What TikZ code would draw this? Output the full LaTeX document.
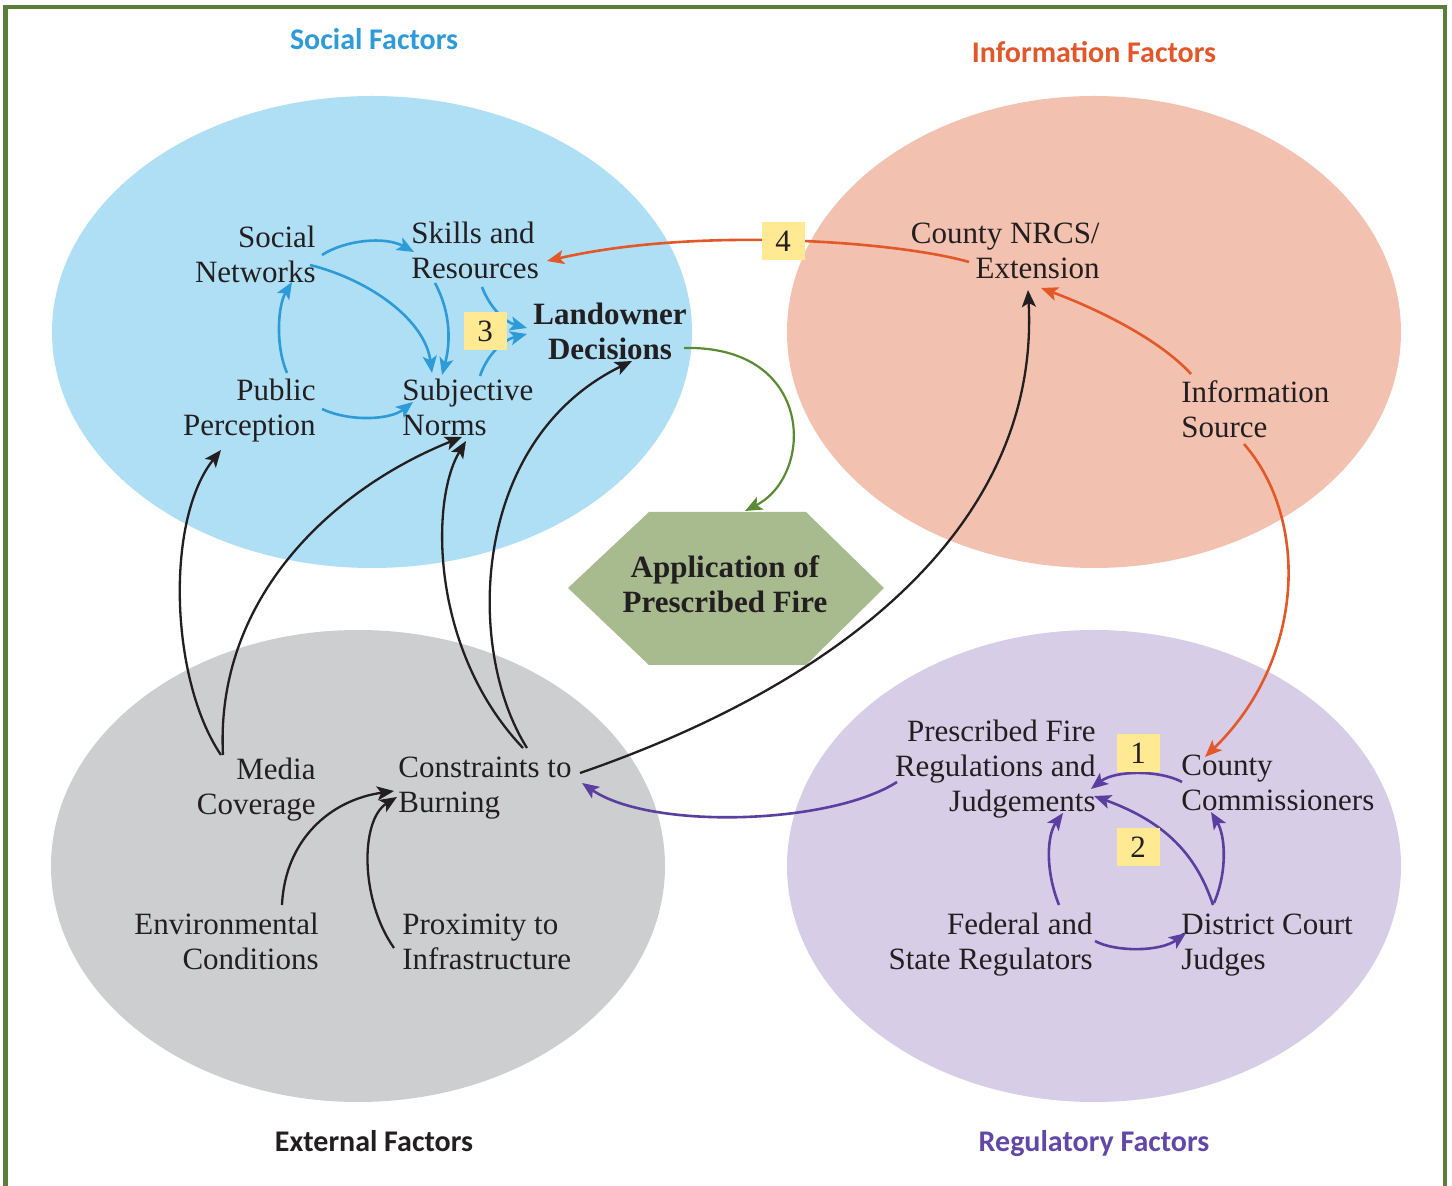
\documentclass[tikz,border=0pt]{standalone}
\usepackage{fontspec}
\setmainfont{Liberation Serif}
\newfontfamily\titlefont{Carlito}
\usetikzlibrary{calc,arrows.meta}
\definecolor{socfill}{HTML}{AEDFF5}
\definecolor{inffill}{HTML}{F2C1B0}
\definecolor{extfill}{HTML}{CDCED0}
\definecolor{regfill}{HTML}{D7CDE6}
\definecolor{hexfill}{HTML}{A8BB8F}
\definecolor{badgeY}{HTML}{FFE993}
\definecolor{txt}{HTML}{231F20}
\definecolor{blueA}{HTML}{2D9BD7}
\definecolor{orangeA}{HTML}{E25828}
\definecolor{greenA}{HTML}{5A8A34}
\definecolor{purpleA}{HTML}{5B3FA0}
\definecolor{borderG}{HTML}{5B7F3A}
\definecolor{socT}{HTML}{2E9AD8}
\definecolor{infT}{HTML}{E2572A}
\definecolor{regT}{HTML}{6247A6}
\begin{document}
\begin{tikzpicture}[x=0.5pt,y=-0.5pt,
  arr/.style={line width=1.3pt,-{Stealth[length=8.5pt,width=7pt,inset=2pt]}},
  barr/.style={arr,draw=blueA},
  oarr/.style={arr,draw=orangeA},
  karr/.style={arr,draw=txt,line width=1.15pt},
  parr/.style={arr,draw=purpleA},
  garr/.style={arr,draw=greenA,line width=1.1pt},
  lbl/.style={font=\fontsize{15.5}{17.5}\selectfont,text=txt,inner sep=0pt},
  lblL/.style={lbl,anchor=west,align=left},
  lblR/.style={lbl,anchor=east,align=right},
  lblB/.style={lbl,font=\fontsize{15.5}{17.5}\selectfont\bfseries,align=center},
  badge/.style={fill=badgeY,minimum width=21.5pt,minimum height=19pt,inner sep=0pt,font=\fontsize{15.5}{17.5}\selectfont,text=txt},
  title/.style={font=\titlefont\bfseries\fontsize{15}{18}\selectfont,inner sep=0pt,anchor=base}
]
\useasboundingbox (0,0) rectangle (1452,1186);
% background regions
\fill[socfill] (372,332) ellipse [x radius=320, y radius=236];
\fill[inffill] (1094,332) ellipse [x radius=307, y radius=236];
\fill[extfill] (358,866) ellipse [x radius=307, y radius=236];
\fill[regfill] (1094,866) ellipse [x radius=307, y radius=236];
\fill[hexfill] (568,588) -- (649,512) -- (806,512) -- (884,588) -- (806,665) -- (649,665) -- cycle;
% border
\draw[borderG,line width=2.25pt] (5.5,1260) -- (5.5,7) -- (1445,7) -- (1445,1260);
% titles
\node[title,text=socT] (tsoc) at (374,49.7) {Social Factors};
\node[title,text=infT] (tinf) at (1094,62.7) {Information Factors};
\node[title,text=txt] (text) at (374,1151.7) {External Factors};
\node[title,text=regT] (treg) at (1094,1151.7) {Regulatory Factors};
% nodes
\node[lblR] (sn) at (316,257.6) {\strut Social\\\strut Networks};
\node[lblL] (sr) at (411,253.6) {\strut Skills and\\\strut Resources};
\node[lblB] (ld) at (610,334.6) {\strut Landowner\\\strut Decisions};
\node[lblR] (pp) at (316,410.6) {\strut Public\\\strut Perception};
\node[lblL] (sj) at (402,410.6) {\strut Subjective\\\strut Norms};
\node[lblR] (ext) at (1100,253.6) {\strut County NRCS/\\\strut Extension};
\node[lblL] (is) at (1181,412.6) {\strut Information\\\strut Source};
\node[lblR] (mc) at (316,789.6) {\strut Media\\\strut Coverage};
\node[lblL] (cb) at (398,787.6) {\strut Constraints to\\\strut Burning};
\node[lblR] (ec) at (319,944.6) {\strut Environmental\\\strut Conditions};
\node[lblL] (pi) at (402,944.6) {\strut Proximity to\\\strut Infrastructure};
\node[lblR] (rg) at (1096,769.6) {\strut Prescribed Fire\\\strut Regulations and\\\strut Judgements};
\node[lblL] (cc) at (1181,785.6) {\strut County\\\strut Commissioners};
\node[lblR] (fs) at (1093,944.6) {\strut Federal and\\\strut State Regulators};
\node[lblL] (dj) at (1181,944.6) {\strut District Court\\\strut Judges};
\node[lblB] (app) at (725,587.6) {\strut Application of\\\strut Prescribed Fire};
% blue arrows
\draw[barr] ($(sn.east)+(6,-2.6)$) .. controls (345,240) and (385,236) .. ($(sr.west)+(3,-1.6)$);
\draw[barr] ($(sn.east)+(-6,7.4)$) .. controls (370,280) and (425,320) .. ($(sj.west)+(30,-37.6)$);
\draw[barr] ($(sr.west)+(24,29.4)$) .. controls (452,315) and (450,345) .. ($(sj.west)+(40,-35.6)$);
\draw[barr] ($(pp.east)+(-29,-37.6)$) .. controls (275,345) and (278,305) .. ($(sn.east)+(-24,24.4)$);
\draw[barr] ($(pp.east)+(6,-1.6)$) .. controls (350,422) and (390,420) .. ($(sj.west)+(11,-8.6)$);
\draw[barr] ($(sr.west)+(71,33.4)$) .. controls (490,308) and (505,322) .. ($(ld)+(-83,-6.6)$);
\draw[barr] ($(sj.west)+(78,-34.6)$) .. controls (487,355) and (503,340) .. ($(ld)+(-83,-0.6)$);
% orange arrows
\draw[oarr] ($(ext.east)+(-131,8.4)$) .. controls (900,242) and (700,226) .. ($(sr.west)+(136,7.4)$);
\draw[oarr] ($(is.west)+(10,-38.6)$) .. controls (1160,340) and (1100,310) .. ($(ext.east)+(-59,34.4)$);
\draw[oarr] ($(is.west)+(63,31.4)$) .. controls (1310,520) and (1305,660) .. ($(cc.west)+(24,-28.6)$);
% green arrow
\draw[garr] ($(ld)+(74,13.4)$) .. controls (815,345) and (815,475) .. ($(app)+(20,-76.6)$);
% black arrows
\draw[karr] ($(mc.east)+(-95,-34.6)$) .. controls (170,680) and (165,520) .. ($(pp.east)+(-95,39.4)$);
\draw[karr] ($(mc.east)+(-93,-34.6)$) .. controls (215,600) and (330,490) .. ($(sj.west)+(60,26.4)$);
\draw[karr] ($(cb.west)+(125,-39.6)$) .. controls (430,650) and (430,500) .. ($(sj.west)+(64,30.4)$);
\draw[karr] ($(cb.west)+(129,-39.6)$) .. controls (465,650) and (470,440) .. ($(ld)+(22,26.4)$);
\draw[karr] ($(cb.west)+(182,-14.6)$) .. controls (850,680) and (1040,520) .. ($(ext.east)+(-72,36.4)$);
\draw[karr] ($(ec.east)+(-37,-39.6)$) .. controls (285,840) and (330,800) .. ($(cb.west)+(-4,3.4)$);
\draw[karr] ($(pi.west)+(-8,3.4)$) .. controls (360,900) and (360,820) .. ($(cb.west)+(-1,9.4)$);
% purple arrows
\draw[parr] ($(rg.east)+(-199,12.4)$) .. controls (830,825) and (650,830) .. ($(cb.west)+(184,-4.6)$);
\draw[parr] ($(cc.west)+(1,-3.6)$) .. controls (1160,770) and (1115,770) .. ($(rg.east)+(-5,19.4)$);
\draw[parr] ($(dj.west)+(32,-39.6)$) .. controls (1195,850) and (1160,820) .. ($(rg.east)+(-2,26.4)$);
\draw[parr] ($(dj.west)+(33,-41.6)$) .. controls (1228,870) and (1225,835) .. ($(cc.west)+(30,26.4)$);
\draw[parr] ($(fs.east)+(-34,-39.6)$) .. controls (1045,870) and (1047,835) .. ($(rg.east)+(-33,43.4)$);
\draw[parr] ($(fs.east)+(2,-3.6)$) .. controls (1115,952) and (1160,952) .. ($(dj.west)+(5,-11.6)$);
% badges
\node[badge] (b4) at (783,241) {4};
\node[badge] (b3) at (485,331) {3};
\node[badge] (b1) at (1138,753) {1};
\node[badge] (b2) at (1138,847) {2};
\end{tikzpicture}
\end{document}
